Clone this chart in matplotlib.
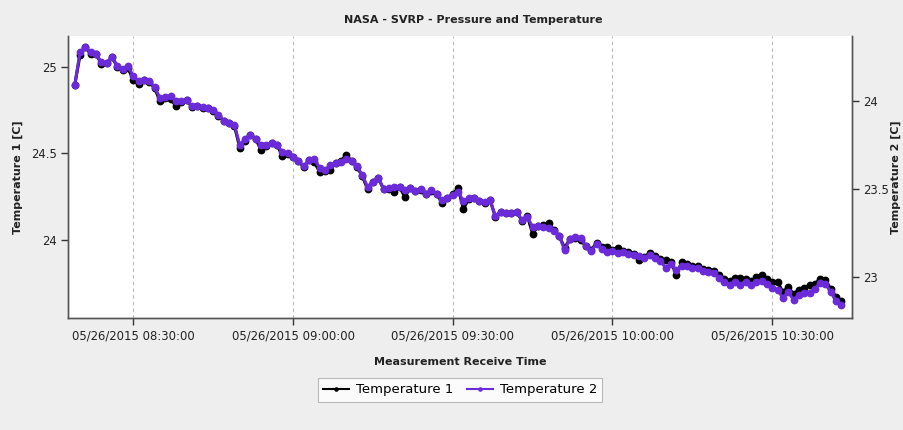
import matplotlib
matplotlib.use('Agg')
import matplotlib.pyplot as plt
import matplotlib.dates as mdates
import pandas as pd

# one reading per minute, starting 08:19
start_time = '2015-05-26 08:19:00'

temp1 = [24.894, 25.068, 25.114, 25.073, 25.073, 25.016, 25.021, 25.056, 24.998, 24.981,
         24.992, 24.923, 24.900, 24.923, 24.912, 24.877, 24.802, 24.819, 24.814, 24.773,
         24.796, 24.808, 24.767, 24.773, 24.762, 24.762, 24.744, 24.716, 24.687, 24.675,
         24.658, 24.531, 24.571, 24.606, 24.583, 24.519, 24.542, 24.560, 24.548, 24.485,
         24.496, 24.479, 24.456, 24.421, 24.462, 24.450, 24.392, 24.398, 24.404, 24.444,
         24.456, 24.491, 24.456, 24.421, 24.369, 24.294, 24.335, 24.358, 24.294, 24.294,
         24.277, 24.306, 24.248, 24.300, 24.283, 24.289, 24.265, 24.283, 24.265, 24.214,
         24.242, 24.265, 24.300, 24.179, 24.237, 24.242, 24.225, 24.214, 24.231, 24.133,
         24.162, 24.156, 24.156, 24.162, 24.110, 24.139, 24.035, 24.081, 24.087, 24.098,
         24.058, 24.023, 23.954, 24.006, 24.012, 24.000, 23.965, 23.942, 23.983, 23.960,
         23.960, 23.942, 23.954, 23.937, 23.931, 23.919, 23.885, 23.902, 23.925, 23.908,
         23.890, 23.885, 23.873, 23.798, 23.873, 23.861, 23.850, 23.850, 23.832, 23.827,
         23.821, 23.798, 23.775, 23.763, 23.781, 23.781, 23.775, 23.763, 23.786, 23.798,
         23.775, 23.757, 23.757, 23.700, 23.729, 23.688, 23.711, 23.723, 23.740, 23.746,
         23.775, 23.769, 23.717, 23.671, 23.648]

temp2 = [24.091, 24.278, 24.306, 24.278, 24.267, 24.221, 24.216, 24.250, 24.199, 24.182,
         24.199, 24.142, 24.113, 24.119, 24.113, 24.079, 24.017, 24.023, 24.028, 24.000,
         24.000, 24.006, 23.972, 23.972, 23.966, 23.960, 23.949, 23.921, 23.887, 23.875,
         23.864, 23.750, 23.784, 23.807, 23.784, 23.750, 23.750, 23.762, 23.750, 23.711,
         23.705, 23.682, 23.660, 23.631, 23.665, 23.671, 23.620, 23.609, 23.637, 23.648,
         23.654, 23.671, 23.660, 23.631, 23.580, 23.512, 23.541, 23.563, 23.501, 23.507,
         23.512, 23.512, 23.495, 23.507, 23.490, 23.501, 23.473, 23.495, 23.473, 23.438,
         23.450, 23.467, 23.484, 23.433, 23.450, 23.450, 23.433, 23.427, 23.438, 23.348,
         23.370, 23.365, 23.365, 23.370, 23.325, 23.342, 23.285, 23.291, 23.285, 23.280,
         23.263, 23.234, 23.155, 23.217, 23.229, 23.223, 23.178, 23.149, 23.189, 23.161,
         23.144, 23.149, 23.138, 23.144, 23.132, 23.127, 23.121, 23.110, 23.127, 23.110,
         23.092, 23.053, 23.075, 23.041, 23.064, 23.064, 23.053, 23.053, 23.036, 23.030,
         23.024, 22.996, 22.973, 22.956, 22.973, 22.956, 22.973, 22.956, 22.973, 22.979,
         22.962, 22.939, 22.928, 22.883, 22.917, 22.871, 22.900, 22.911, 22.911, 22.934,
         22.968, 22.962, 22.917, 22.866, 22.843]

left_ticks = [24, 24.5, 25]
right_ticks = [23, 23.5, 24]

times = pd.date_range(start_time, periods=len(temp1), freq='min')

plt.rcParams['font.family'] = 'DejaVu Sans'
bg = '#eeeeee'
purple = '#6c2bd9'

fig = plt.figure(figsize=(9.04, 4.30), dpi=100, facecolor=bg)
ax = fig.add_axes([0.0749, 0.2598, 0.8672, 0.6565])
ax2 = ax.twinx()

ax.plot(times, temp1, color='black', linewidth=2.2, marker='o', markersize=4.6,
        label='Temperature 1')
ax2.plot(times, temp2, color=purple, linewidth=2.2, marker='o', markersize=4.6,
         label='Temperature 2')

ax.set_xlim(pd.Timestamp('2015-05-26 08:17:41'), pd.Timestamp('2015-05-26 10:44:55'))
ax.set_ylim(23.548, 25.177)
ax2.set_ylim(22.767, 24.369)

ax.set_yticks(left_ticks)
ax.set_yticklabels(['24', '24.5', '25'])
ax2.set_yticks(right_ticks)
ax2.set_yticklabels(['23', '23.5', '24'])

ax.xaxis.set_major_locator(mdates.MinuteLocator(byminute=[0, 30]))
ax.xaxis.set_major_formatter(mdates.DateFormatter('%m/%d/%Y %H:%M:%S'))

ax.grid(axis='x', color='#b8b8b8', linestyle=(0, (3, 3)), linewidth=0.8)
ax.grid(axis='y', visible=False)
ax.set_axisbelow(True)

for a in (ax, ax2):
    a.spines['top'].set_visible(False)
    for s in ('left', 'right', 'bottom'):
        a.spines[s].set_color('#555555')
        a.spines[s].set_linewidth(1.0)
    a.tick_params(length=5, width=1, color='#333333', labelsize=8.4,
                  labelcolor='#222222', pad=3)

ax.set_facecolor('white')

fig.text(473 / 904, 1 - 20 / 430, 'NASA - SVRP - Pressure and Temperature',
         ha='center', va='center', fontsize=8, fontweight='bold', color='#222222')
fig.text(18 / 904, 1 - 177 / 430, 'Temperature 1 [C]', rotation=90, ha='center',
         va='center', fontsize=8, fontweight='bold', color='#222222')
fig.text(896 / 904, 1 - 177 / 430, 'Temperature 2 [C]', rotation=90, ha='center',
         va='center', fontsize=8, fontweight='bold', color='#222222')
fig.text(460 / 904, 1 - 362 / 430, 'Measurement Receive Time', ha='center',
         va='center', fontsize=8, fontweight='bold', color='#222222')

h1, l1 = ax.get_legend_handles_labels()
h2, l2 = ax2.get_legend_handles_labels()
leg = fig.legend(h1 + h2, l1 + l2, loc='center', bbox_to_anchor=(460 / 904, 1 - 390 / 430),
                 ncol=2, frameon=True, fancybox=False, fontsize=9.5, handlelength=2.0,
                 handletextpad=0.5, columnspacing=1.0, borderpad=0.4, markerscale=0.5)
leg.get_frame().set_edgecolor('#aaaaaa')
leg.get_frame().set_linewidth(0.8)
# thinner lines in the legend keys
for handle in leg.legend_handles:
    handle.set_linewidth(1.5)

fig.savefig('out.png', dpi=100, facecolor=bg)
